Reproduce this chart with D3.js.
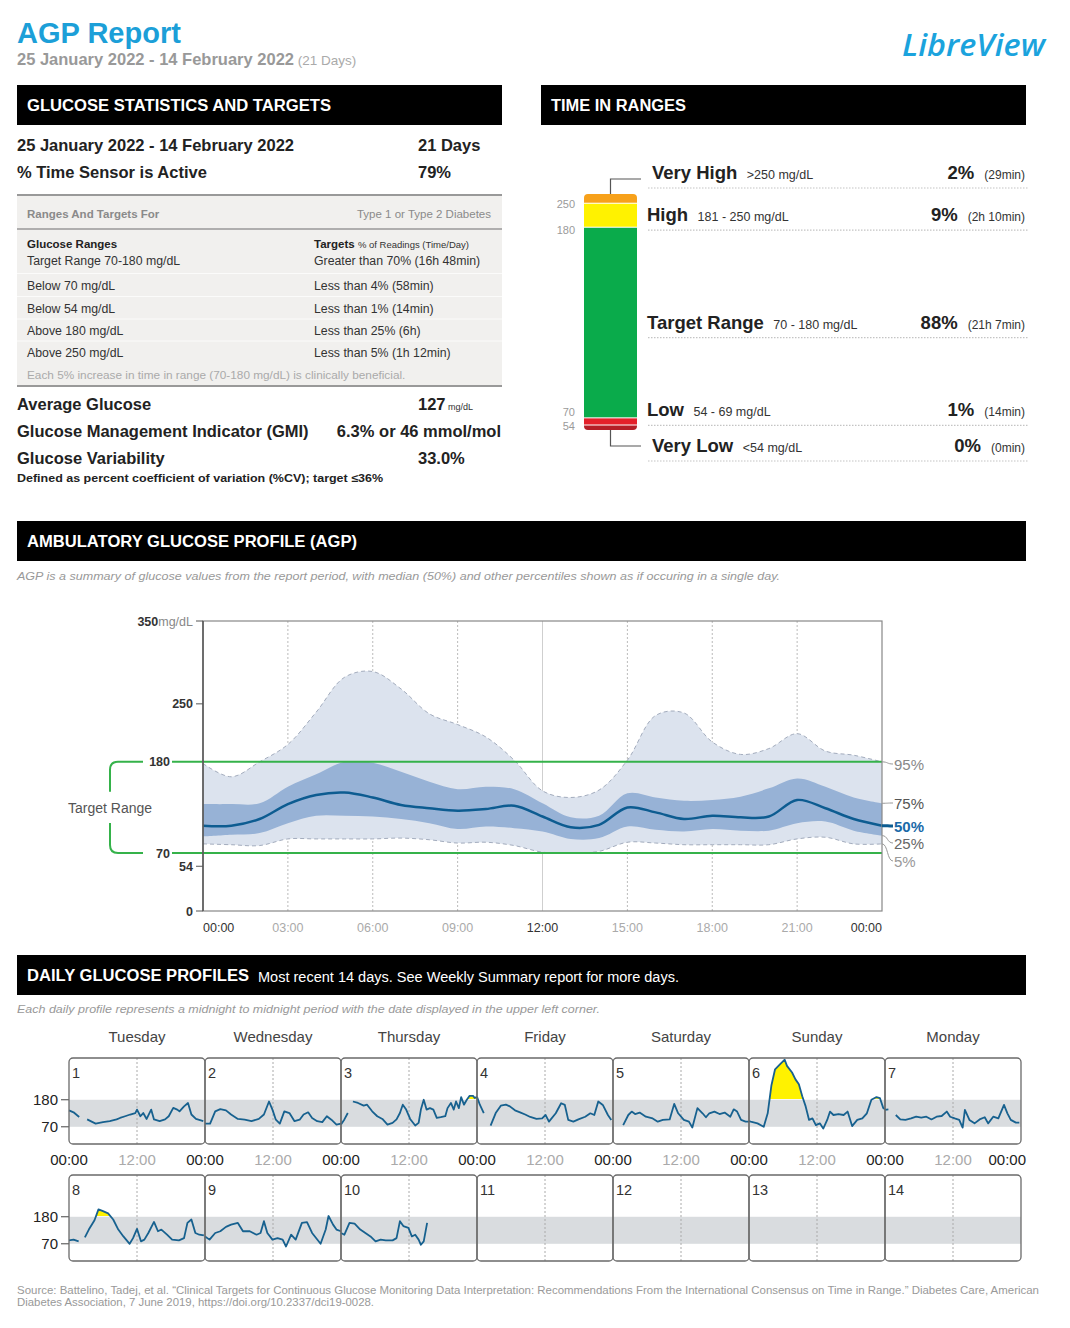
<!DOCTYPE html>
<html><head><meta charset="utf-8">
<script src="https://cdn.jsdelivr.net/npm/d3@7"></script>
<style>
body{margin:0;background:#fff;}
svg{display:block;font-family:"Liberation Sans",Arial,sans-serif;}
</style></head><body>
<svg id="c" width="1070" height="1328"></svg>
<script>
// ---------------- DATA ----------------
const reportRange = "25 January 2022 - 14 February 2022";
const reportDays = "21 Days";
const sensorActive = "79%";

const rangeRows = ["Target Range 70-180 mg/dL","Below 70 mg/dL","Below 54 mg/dL","Above 180 mg/dL","Above 250 mg/dL"];
const targetRows = ["Greater than 70% (16h 48min)","Less than 4% (58min)","Less than 1% (14min)","Less than 25% (6h)","Less than 5% (1h 12min)"];

const avgGlucose = "127";
const gmiValue = "6.3% or 46 mmol/mol";
const variability = "33.0%";

const tirNames = ["Very High","High","Target Range","Low","Very Low"];
const tirRanges = [">250 mg/dL","181 - 250 mg/dL","70 - 180 mg/dL","54 - 69 mg/dL","<54 mg/dL"];
const tirPercent = [2, 9, 88, 1, 0];
const tirDuration = ["(29min)","(2h 10min)","(21h 7min)","(14min)","(0min)"];
const tirThresholds = [250, 180, 70, 54];
const tirColors = ["#f7a11a","#fff200","#0aab4b","#e4202a","#b41e27"];

// AGP percentiles by hour of day
const agpHours = [0,1,2,3,4,5,6,7,8,9,10,11,12,13,14,15,16,17,18,19,20,21,22,23,24];
const p95 = [178,162,180,201,240,282,289,268,238,225,210,182,145,137,146,182,236,239,204,189,196,214,193,188,180];
const p75 = [129,129,130,150,165,180,179,168,156,147,150,147,130,113,115,142,137,133,134,138,148,160,150,137,130];
const p50 = [103,103,111,129,140,143,137,128,124,121,123,127,114,101,104,125,119,111,115,113,114,134,124,111,103];
const p25 = [90,92,94,106,115,115,114,111,106,99,102,100,96,87,88,102,98,96,99,97,97,106,108,97,91];
const p5  = [81,80,79,87,87,87,87,88,86,82,83,79,71,70,72,83,82,80,80,80,80,87,89,81,81];
const agpTickHours = [0,3,6,9,12,15,18,21,24];
const agpTickLabels = ["00:00","03:00","06:00","09:00","12:00","15:00","18:00","21:00","00:00"];
const agpYTicks = [0,54,70,180,250,350];

// Daily glucose profiles: [hour, mg/dL], null = no data
const dayNames = ["Tuesday","Wednesday","Thursday","Friday","Saturday","Sunday","Monday"];
const dayDates = [1,2,3,4,5,6,7,8,9,10,11,12,13,14];
const day1 = [[0,137],[0.8,129],[1.8,110],[2.5,null],[3.2,100],[4.7,83],[6,89],[7.2,93],[8.4,100],[9,106],[9.9,113],[10.8,120],[11.7,126],[12,140],[12.6,113],[13.1,126],[13.7,102],[14.5,140],[15,100],[16,93],[16.95,100],[17.6,113],[18.4,147],[19.1,140],[19.5,133],[20.3,153],[21,167],[21.6,120],[22.4,102],[23.7,93]];
const day2 = [[0,83],[0.9,83],[1.8,133],[2.7,142],[3.7,137],[4.6,120],[5.8,102],[7,99],[8.2,93],[9.5,102],[10.4,120],[11.3,173],[11.9,140],[12.5,99],[13.2,83],[14,133],[14.9,126],[15.8,93],[16.7,99],[17.4,120],[18.2,129],[18.9,106],[19.8,93],[20.7,89],[21.5,113],[22.3,99],[23.2,79],[24,83]];
const day3 = [[0,79],[0.6,100],[1.2,126],[1.6,null],[2.1,173],[3,167],[4,156],[4.6,160],[5.5,133],[6.4,113],[7.3,102],[8.2,79],[9.1,86],[9.8,100],[10.4,126],[10.9,160],[11.5,140],[12.2,102],[13.1,75],[13.7,86],[14.1,140],[14.6,180],[15.1,140],[15.7,146],[16.3,140],[16.9,106],[17.6,109],[18.4,113],[18.8,146],[19.4,167],[19.9,140],[20.3,173],[20.8,146],[21.2,191],[21.7,160],[22.2,180],[22.7,196],[23.3,196],[23.6,187],[24,192]];
const day4 = [[0,192],[0.5,160],[1.2,126],[1.8,null],[2.4,75],[3.3,126],[4.2,156],[5.1,160],[5.8,153],[6.7,137],[7.6,129],[8.5,120],[9.4,110],[10.5,102],[11.5,104],[12.1,118],[12.7,91],[13.9,125],[14.85,166],[15.5,159],[16.1,98],[17,91],[17.9,100],[19.1,111],[20,125],[20.7,118],[21.4,173],[22.2,159],[23.1,118],[23.7,98]];
const day5 = [[1.8,77],[2.7,118],[3.3,132],[3.9,122],[4.7,128],[5.8,111],[7,104],[7.9,91],[8.8,98],[10,100],[10.8,163],[11.5,125],[12.5,98],[13.4,91],[14,67],[14.9,146],[15.8,125],[16.4,109],[17,125],[17.9,132],[18.8,122],[19.7,128],[20.7,111],[21.3,141],[21.9,132],[22.6,98],[23.4,91],[24,91]];
const day6 = [[0,93],[0.3,91],[1.5,84],[2.6,70],[3.3,125],[3.95,238],[4.6,304],[5.5,325],[6.3,343],[6.7,318],[7.6,291],[8.2,263],[8.8,243],[9.4,194],[10,153],[10.6,98],[11.2,104],[11.8,77],[12.5,84],[13.1,63],[13.8,98],[14.3,132],[14.9,118],[15.8,122],[16.7,118],[17.4,132],[18.2,73],[19.1,98],[20,104],[20.8,125],[21.6,180],[22.5,191],[23.1,187],[23.7,146],[24,141]];
const day7 = [[0,139],[0.6,141],[1.2,null],[1.9,118],[2.7,100],[3.6,98],[4.6,104],[5.5,111],[6.4,107],[7.3,111],[8.2,100],[9.1,111],[10,114],[10.9,132],[11.5,111],[12.3,104],[13.1,98],[13.7,67],[14.1,139],[14.9,98],[15.8,84],[16.7,100],[17.6,109],[18.2,84],[19.1,111],[20,104],[21,159],[21.6,125],[22.2,98],[23.1,87],[23.7,87]];
const day8 = [[0,84],[0.8,87],[1.7,80],[2.2,null],[2.8,96],[3.5,128],[4.5,166],[5.2,210],[6,203],[6.9,194],[7.8,169],[8.7,128],[9.6,100],[10.7,70],[11.3,93],[12,131],[12.7,80],[13.3,87],[14,114],[15,159],[15.7,121],[16.3,128],[17.3,107],[18.2,87],[19.4,84],[20.3,93],[20.9,155],[21.6,169],[22.3,114],[23,107],[23.8,104]];
const day9 = [[0,100],[0.8,87],[1.8,114],[2.7,121],[3.7,139],[4.6,148],[5.8,155],[6.7,121],[7.9,121],[9.1,107],[9.8,114],[10.4,162],[11,114],[11.9,87],[12.8,93],[13.7,87],[14.3,59],[15.2,107],[16,87],[17.1,155],[18,158],[18.9,114],[20.4,70],[21.3,128],[21.8,183],[22.6,148],[23.2,128],[24,121]];
const day10 = [[0,114],[0.6,107],[1.5,155],[2.4,152],[3.4,128],[4.3,114],[5.2,100],[6.1,80],[7,87],[7.9,84],[9.1,84],[9.8,93],[10.4,162],[11,142],[11.9,135],[12.5,100],[13.1,107],[13.7,87],[14.1,66],[14.6,80],[15.2,155]];
const day11 = [], day12 = [], day13 = [], day14 = [];
const dailySeries = [day1,day2,day3,day4,day5,day6,day7,day8,day9,day10,day11,day12,day13,day14];
const dailyYTicks = [70,180];
const dailyXLabels = ["00:00","12:00"];

// ---------------- DRAWING ----------------
const svg = d3.select("#c");
function txt(g, x, y, s, o = {}) {
  const t = g.append("text").attr("x", x).attr("y", y).text(s)
    .attr("font-size", o.size || 12).attr("fill", o.fill || "#222")
    .attr("font-weight", o.weight || "normal").attr("text-anchor", o.anchor || "start");
  if (o.style) t.attr("font-style", o.style);
  if (o.family) t.attr("font-family", o.family);
  if (o.len) t.attr("textLength", o.len).attr("lengthAdjust", "spacingAndGlyphs");
  return t;
}
function bar(x, y, w, label, len) {
  svg.append("rect").attr("x", x).attr("y", y).attr("width", w).attr("height", 40).attr("fill", "#000");
  return txt(svg, x + 10, y + 26, label, {size: 16, weight: "bold", fill: "#fff", len: len});
}

// Header
txt(svg, 17, 43, "AGP Report", {size: 29, weight: "bold", fill: "#1c9fd8"});
const sub = svg.append("text").attr("x", 17).attr("y", 65);
sub.append("tspan").text(reportRange).attr("font-size", 16.5).attr("font-weight", "bold").attr("fill", "#999");
sub.append("tspan").text(" (" + reportDays + ")").attr("font-size", 13.5).attr("fill", "#aaa");
txt(svg, 1045, 56, "LibreView", {size: 30, anchor: "end", style: "italic", weight: 600, family: "'Open Sans', sans-serif", fill: "#1ba3dd", len: 143});

// ---- Glucose statistics ----
bar(17, 85, 485, "GLUCOSE STATISTICS AND TARGETS", 304);
txt(svg, 17, 151, reportRange, {size: 16.5, weight: "bold", fill: "#222"});
txt(svg, 418, 151, reportDays, {size: 16.5, weight: "bold", fill: "#222"});
txt(svg, 17, 178, "% Time Sensor is Active", {size: 16.5, weight: "bold", fill: "#222"});
txt(svg, 418, 178, sensorActive, {size: 16.5, weight: "bold", fill: "#222"});

svg.append("rect").attr("x", 17).attr("y", 195).attr("width", 485).attr("height", 191).attr("fill", "#f1f0ee");
svg.append("line").attr("x1", 17).attr("x2", 502).attr("y1", 195).attr("y2", 195).attr("stroke", "#999").attr("stroke-width", 2);
svg.append("line").attr("x1", 17).attr("x2", 502).attr("y1", 229).attr("y2", 229).attr("stroke", "#999").attr("stroke-width", 1.5);
svg.append("line").attr("x1", 17).attr("x2", 502).attr("y1", 386).attr("y2", 386).attr("stroke", "#999").attr("stroke-width", 2);
txt(svg, 27, 218, "Ranges And Targets For", {size: 11.5, weight: "bold", fill: "#8a8a8a"});
txt(svg, 491, 218, "Type 1 or Type 2 Diabetes", {size: 11.5, anchor: "end", fill: "#8a8a8a"});
txt(svg, 27, 248, "Glucose Ranges", {size: 11.5, weight: "bold", fill: "#222"});
const th = svg.append("text").attr("x", 314).attr("y", 248);
th.append("tspan").text("Targets ").attr("font-size", 11.5).attr("font-weight", "bold").attr("fill", "#222");
th.append("tspan").text("% of Readings (Time/Day)").attr("font-size", 9.5).attr("fill", "#333");
const rowY = [265, 289.5, 312.5, 335, 357];
rangeRows.forEach((r, i) => {
  txt(svg, 27, rowY[i], r, {size: 12.3, fill: "#333"});
  txt(svg, 314, rowY[i], targetRows[i], {size: 12.3, fill: "#333"});
  if (i > 0) svg.append("line").attr("x1", 17).attr("x2", 502).attr("y1", rowY[i] - 16).attr("y2", rowY[i] - 16).attr("stroke", "#fbfbfa").attr("stroke-width", 1);
});
txt(svg, 27, 379, "Each 5% increase in time in range (70-180 mg/dL) is clinically beneficial.", {size: 11.8, fill: "#aaa"});

txt(svg, 17, 410, "Average Glucose", {size: 16.5, weight: "bold", fill: "#222"});
const ag = svg.append("text").attr("x", 418).attr("y", 410);
ag.append("tspan").text(avgGlucose).attr("font-size", 16.5).attr("font-weight", "bold").attr("fill", "#222");
ag.append("tspan").text(" mg/dL").attr("font-size", 9).attr("fill", "#333");
txt(svg, 17, 437, "Glucose Management Indicator (GMI)", {size: 16.5, weight: "bold", fill: "#222"});
txt(svg, 501, 437, gmiValue, {size: 16.5, weight: "bold", fill: "#222", anchor: "end"});
txt(svg, 17, 464, "Glucose Variability", {size: 16.5, weight: "bold", fill: "#222"});
txt(svg, 418, 464, variability, {size: 16.5, weight: "bold", fill: "#222"});
txt(svg, 17, 482, "Defined as percent coefficient of variation (%CV); target \u226436%", {size: 11, weight: "bold", fill: "#222", len: 366});

// ---- Time in ranges ----
bar(541, 85, 485, "TIME IN RANGES", 135);
const tirX = 584, tirW = 53, tirTop = 194;
const hScale = d3.scaleLinear().domain([0, 100]).range([0, 211]);
let acc = tirTop;
const segs = tirPercent.map((p, i) => { const h = 5 + hScale(p); const s = {y: acc, h: h, c: tirColors[i]}; acc += h; return s; });
const tirBottom = acc;
const defs = svg.append("defs");
defs.append("clipPath").attr("id", "tirclip").append("rect")
  .attr("x", tirX).attr("y", tirTop).attr("width", tirW).attr("height", tirBottom - tirTop).attr("rx", 4);
const tg = svg.append("g").attr("clip-path", "url(#tirclip)");
tg.selectAll("rect").data(segs).join("rect")
  .attr("x", tirX).attr("y", d => d.y).attr("width", tirW).attr("height", d => d.h).attr("fill", d => d.c);
segs.slice(1).forEach(s => tg.append("line").attr("x1", tirX).attr("x2", tirX + tirW).attr("y1", s.y).attr("y2", s.y).attr("stroke", "#fff").attr("stroke-width", 1));
const thrOff = [1, 3, -6, 1];
tirThresholds.forEach((t, i) => {
  txt(svg, 575, segs[i + 1].y + thrOff[i] + 4, t, {size: 11, fill: "#9a9a9a", anchor: "end"});
});
const cx = tirX + tirW / 2;
svg.append("path").attr("d", `M${cx},${tirTop} V179 H641`).attr("fill", "none").attr("stroke", "#555").attr("stroke-width", 1.2);
svg.append("path").attr("d", `M${cx},${tirBottom} V446 H641`).attr("fill", "none").attr("stroke", "#555").attr("stroke-width", 1.2);
const labY = [tirTop - 21, segs[1].y + segs[1].h / 2, segs[2].y + segs[2].h / 2, segs[3].y + segs[3].h / 2 - 11, tirBottom + 16];
const labX = [652, 647, 647, 647, 652];
tirNames.forEach((n, i) => {
  const y = labY[i] + 6;
  const t = svg.append("text").attr("x", labX[i]).attr("y", y);
  t.append("tspan").text(n).attr("font-size", 18.5).attr("font-weight", "bold").attr("fill", "#222");
  t.append("tspan").text(" " + tirRanges[i]).attr("font-size", 12.5).attr("fill", "#333").attr("dx", 6);
  const d = txt(svg, 1025, y, tirDuration[i], {size: 12, fill: "#333", anchor: "end"});
  const w = d.node().getComputedTextLength();
  txt(svg, 1025 - w - 10, y, tirPercent[i] + "%", {size: 18.5, weight: "bold", fill: "#222", anchor: "end"});
  svg.append("line").attr("x1", 648).attr("x2", 1028).attr("y1", labY[i] + 15).attr("y2", labY[i] + 15)
    .attr("stroke", "#c4c4c4").attr("stroke-width", 1.2).attr("stroke-dasharray", "1.5,1.5");
});

// ---- AGP ----
bar(17, 521, 1009, "AMBULATORY GLUCOSE PROFILE (AGP)", 330);
txt(svg, 17, 580, "AGP is a summary of glucose values from the report period, with median (50%) and other percentiles shown as if occuring in a single day.", {size: 11.5, style: "italic", fill: "#999", len: 763});

const A = {l: 203, r: 882, t: 621, b: 911};
const xA = d3.scaleLinear().domain([0, 24]).range([A.l, A.r]);
const yA = d3.scaleLinear().domain([0, 350]).range([A.b, A.t]);
const ag2 = svg.append("g");
const rows = agpHours.map((h, i) => ({h, p95: p95[i], p75: p75[i], p50: p50[i], p25: p25[i], p5: p5[i]}));
const curve = d3.curveCatmullRom.alpha(0.5);
// grid
agpTickHours.slice(1, -1).forEach(h => {
  ag2.append("line").attr("x1", xA(h)).attr("x2", xA(h)).attr("y1", A.t).attr("y2", A.b)
    .attr("stroke", h === 12 ? "#cfcfcf" : "#bbb").attr("stroke-width", 1)
    .attr("stroke-dasharray", h === 12 ? null : "2,2");
});
ag2.append("path").datum(rows).attr("fill", "#dce3ee")
  .attr("d", d3.area().curve(curve).x(d => xA(d.h)).y0(d => yA(d.p5)).y1(d => yA(d.p95)));
ag2.append("path").datum(rows).attr("fill", "#97b2d6")
  .attr("d", d3.area().curve(curve).x(d => xA(d.h)).y0(d => yA(d.p25)).y1(d => yA(d.p75)));
["p95", "p5"].forEach(k => ag2.append("path").datum(rows).attr("fill", "none").attr("stroke", "#a3acbd")
  .attr("stroke-width", 1).attr("stroke-dasharray", "4,3")
  .attr("d", d3.line().curve(curve).x(d => xA(d.h)).y(d => yA(d[k]))));
// target lines
[180, 70].forEach(v => ag2.append("line").attr("x1", 172).attr("x2", A.r).attr("y1", yA(v)).attr("y2", yA(v))
  .attr("stroke", "#35b24a").attr("stroke-width", 2));
ag2.append("path").datum(rows).attr("fill", "none").attr("stroke", "#0d5c91").attr("stroke-width", 2.5)
  .attr("d", d3.line().curve(curve).x(d => xA(d.h)).y(d => yA(d.p50)));
// frame
ag2.append("rect").attr("x", A.l).attr("y", A.t).attr("width", A.r - A.l).attr("height", A.b - A.t)
  .attr("fill", "none").attr("stroke", "#888").attr("stroke-width", 1.2);
ag2.append("line").attr("x1", A.l).attr("x2", A.l).attr("y1", A.t).attr("y2", A.b).attr("stroke", "#555").attr("stroke-width", 1.5);
// y ticks
agpYTicks.forEach(v => {
  const y = yA(v);
  if (v !== 180 && v !== 70) ag2.append("line").attr("x1", A.l - 7).attr("x2", A.l).attr("y1", y).attr("y2", y).attr("stroke", "#555");
  const xe = (v === 180 || v === 70) ? 170 : 193;
  if (v === 350) {
    const t = ag2.append("text").attr("x", xe).attr("y", y + 4.5).attr("text-anchor", "end");
    t.append("tspan").text("350").attr("font-size", 12.5).attr("font-weight", "bold").attr("fill", "#333");
    t.append("tspan").text("mg/dL").attr("font-size", 12.5).attr("fill", "#888");
  } else {
    txt(ag2, xe, y + 4.5, v, {size: 12.5, weight: "bold", fill: "#333", anchor: "end"});
  }
});
// x labels
agpTickHours.forEach((h, i) => {
  const anchor = i === 0 ? "start" : (i === agpTickHours.length - 1 ? "end" : "middle");
  const dark = (h % 12 === 0);
  txt(ag2, xA(h), 932, agpTickLabels[i], {size: 12.5, anchor, fill: dark ? "#333" : "#aaa"});
});
// target bracket
ag2.append("path").attr("d", `M143,${yA(180)} H118 Q110,${yA(180)} 110,${yA(180) + 8} V${yA(180) + 30} M110,${yA(70) - 30} V${yA(70) - 8} Q110,${yA(70)} 118,${yA(70)} H143`)
  .attr("fill", "none").attr("stroke", "#35b24a").attr("stroke-width", 2);
txt(ag2, 110, 813, "Target Range", {size: 14, fill: "#555", anchor: "middle"});
// percentile labels
const last = rows[rows.length - 1];
const pl = [
  {k: "p95", t: "95%", ly: 764, c: "#888", b: false},
  {k: "p75", t: "75%", ly: 803, c: "#555", b: false},
  {k: "p50", t: "50%", ly: 826, c: "#1a6aa8", b: true},
  {k: "p25", t: "25%", ly: 843, c: "#666", b: false},
  {k: "p5", t: "5%", ly: 861, c: "#999", b: false}];
pl.forEach(p => {
  const y0 = yA(last[p.k]);
  ag2.append("path").attr("d", `M${A.r},${y0} C${A.r + 6},${y0} ${A.r + 5},${p.ly} ${A.r + 11},${p.ly}`)
    .attr("fill", "none").attr("stroke", p.b ? "#0d5c91" : "#999").attr("stroke-width", p.b ? 3 : 1);
  txt(ag2, 894, p.ly + 5.5, p.t, {size: 15, fill: p.c, weight: p.b ? "bold" : "normal"});
});

// ---- Daily profiles ----
bar(17, 955, 1009, "DAILY GLUCOSE PROFILES", 222);
txt(svg, 258, 982, "Most recent 14 days. See Weekly Summary report for more days.", {size: 14, fill: "#fff", len: 421});
txt(svg, 17, 1013, "Each daily profile represents a midnight to midnight period with the date displayed in the upper left corner.", {size: 11.5, style: "italic", fill: "#999", len: 583});

const D = {l: 69, w: 136, h: 86, tops: [1058, 1175]};
dayNames.forEach((n, i) => txt(svg, D.l + D.w * i + D.w / 2, 1042, n, {size: 15, fill: "#444", anchor: "middle"}));
D.tops.forEach((top, r) => {
  const yD = d3.scaleLinear().domain([0, 350]).range([top + D.h, top]);
  svg.append("rect").attr("x", D.l).attr("y", yD(180)).attr("width", D.w * 7).attr("height", yD(70) - yD(180)).attr("fill", "#d9dcdf");
  dailyYTicks.forEach(v => {
    svg.append("line").attr("x1", D.l - 8).attr("x2", D.l).attr("y1", yD(v)).attr("y2", yD(v)).attr("stroke", "#444");
    txt(svg, D.l - 11, yD(v) + 5.5, v, {size: 15, fill: "#222", anchor: "end"});
  });
  for (let c = 0; c < 7; c++) {
    const idx = r * 7 + c;
    const x0 = D.l + c * D.w;
    const xD = d3.scaleLinear().domain([0, 24]).range([x0, x0 + D.w]);
    const g = svg.append("g");
    g.append("line").attr("x1", xD(12)).attr("x2", xD(12)).attr("y1", top).attr("y2", top + D.h)
      .attr("stroke", "#aaa").attr("stroke-dasharray", "2,2");
    const data = dailySeries[idx];
    const cid = "dc" + idx;
    defs.append("clipPath").attr("id", cid).append("rect").attr("x", x0).attr("y", top - 10).attr("width", D.w)
      .attr("height", Math.floor(yD(180)) - top + 10);
    g.append("path").datum(data).attr("clip-path", `url(#${cid})`).attr("fill", "#fff200")
      .attr("d", d3.area().defined(d => d[1] != null).x(d => xD(d[0])).y0(yD(180) + 2).y1(d => yD(d[1])));
    g.append("path").datum(data).attr("fill", "none").attr("stroke", "#17618f").attr("stroke-width", 1.8).attr("stroke-linejoin", "round")
      .attr("d", d3.line().defined(d => d[1] != null).x(d => xD(d[0])).y(d => yD(d[1])));
    g.append("rect").attr("x", x0).attr("y", top).attr("width", D.w).attr("height", D.h).attr("rx", 4)
      .attr("fill", "none").attr("stroke", "#6a6a6a").attr("stroke-width", 1.3);
    txt(g, x0 + 3, top + 20, dayDates[idx], {size: 14.5, fill: "#333"});
    if (r === 0) {
      txt(svg, xD(12), 1165, dailyXLabels[1], {size: 15, fill: "#aaa", anchor: "middle"});
    }
  }
  if (r === 0) {
    for (let c = 0; c <= 7; c++) {
      const x = D.l + c * D.w;
      txt(svg, c === 7 ? 1026 : x, 1165, dailyXLabels[0], {size: 15, fill: "#222", anchor: c === 7 ? "end" : "middle"});
    }
  }
});

// Footer
txt(svg, 17, 1294, "Source: Battelino, Tadej, et al. \u201cClinical Targets for Continuous Glucose Monitoring Data Interpretation: Recommendations From the International Consensus on Time in Range.\u201d Diabetes Care, American", {size: 10.5, fill: "#999", len: 1022});
txt(svg, 17, 1306, "Diabetes Association, 7 June 2019, https://doi.org/10.2337/dci19-0028.", {size: 10.5, fill: "#999", len: 357});
</script>
</body></html>
